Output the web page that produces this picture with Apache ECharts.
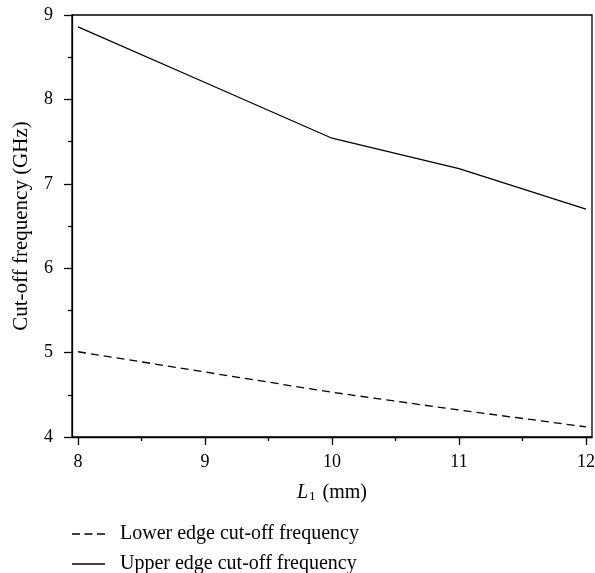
<!DOCTYPE html>
<html><head><meta charset="utf-8">
<script src="https://cdn.jsdelivr.net/npm/echarts@6/dist/echarts.min.js"></script>
<style>html,body{margin:0;padding:0;background:#fff}#c{width:595px;height:573px}</style>
</head><body><div id="c"></div>
<script>
var xValues = [8, 9, 10, 11, 12];
var lowerEdge = [5.01, 4.77, 4.53, 4.32, 4.12];
var upperEdge = [8.86, 8.20, 7.54, 7.18, 6.70];
var xTicks = [8, 9, 10, 11, 12];
var xMinorTicks = [8.5, 9.5, 10.5, 11.5];
var seriesNames = ['Lower edge cut-off frequency', 'Upper edge cut-off frequency'];

var F = 'Liberation Serif, Times New Roman, serif';
function pairs(ys){ return xValues.map(function(x,i){ return [x, ys[i]]; }); }
var xmin = 8 - 6/127, xmax = 12 + 6/127;
var dashIcon = 'path://M0,0h8v1.4h-8z M12.5,0h8v1.4h-8z M25,0h8v1.4h-8z';
var solidIcon = 'path://M0,0h33v1.4h-33z';
function legendAt(top, name, icon){
  return {
    orient: 'vertical', left: 72, top: top, padding: 0, itemWidth: 33, itemHeight: 1.4,
    textStyle: {fontFamily: F, fontSize: 20, color: '#000', padding: [0, 0, 0, 10]},
    data: [{name: name, icon: icon}]
  };
}
var chart = echarts.init(document.getElementById('c'));
chart.setOption({
  animation: false,
  textStyle: {fontFamily: F, color: '#000'},
  grid: {left: 72, right: 3, top: 15, bottom: 136, show: true, borderColor: '#000', borderWidth: 1.3, containLabel: false, outerBoundsMode: 'none'},
  legend: [legendAt(524, seriesNames[0], dashIcon), legendAt(554, seriesNames[1], solidIcon)],
  xAxis: [{
    type: 'value', min: xmin, max: xmax, position: 'bottom',
    name: '{i|L}{s|1} (mm)', nameLocation: 'middle', nameGap: 45,
    nameTextStyle: {fontFamily: F, fontSize: 20, color: '#000', rich: {
      i: {fontFamily: F, fontStyle: 'italic', fontSize: 20},
      s: {fontFamily: F, fontSize: 13, verticalAlign: 'bottom', padding: [8, 2, 0, 1]}
    }},
    axisLine: {show: true, lineStyle: {color: '#000', width: 1.3}},
    axisTick: {show: true, inside: false, length: 8, lineStyle: {color: '#000', width: 1.3}, customValues: xTicks},
    axisLabel: {show: true, fontFamily: F, fontSize: 18, color: '#000', margin: 16, customValues: xTicks},
    splitLine: {show: false}
  }, {
    type: 'value', min: xmin, max: xmax, position: 'bottom',
    axisLine: {show: false},
    axisTick: {show: true, inside: false, length: 4, lineStyle: {color: '#000', width: 1.3}, customValues: xMinorTicks},
    axisLabel: {show: false, customValues: xMinorTicks},
    splitLine: {show: false}
  }],
  yAxis: {
    type: 'value', min: 4, max: 9, interval: 1,
    name: 'Cut-off frequency (GHz)', nameLocation: 'middle', nameGap: 40,
    nameTextStyle: {fontFamily: F, fontSize: 21, color: '#000'},
    axisLine: {show: true, lineStyle: {color: '#000', width: 1.3}},
    axisTick: {show: true, inside: false, length: 8, lineStyle: {color: '#000', width: 1.3}},
    minorTick: {show: true, splitNumber: 2, length: 4, lineStyle: {color: '#000', width: 1.3}},
    axisLabel: {fontFamily: F, fontSize: 18, color: '#000', margin: 19},
    splitLine: {show: false}
  },
  series: [{
    name: seriesNames[0], type: 'line', data: pairs(lowerEdge), symbol: 'none',
    lineStyle: {color: '#000', width: 1.3, type: [8, 5]}, itemStyle: {color: '#000'}
  }, {
    name: seriesNames[1], type: 'line', data: pairs(upperEdge), symbol: 'none',
    lineStyle: {color: '#000', width: 1.3, type: 'solid'}, itemStyle: {color: '#000'}
  }]
});
</script></body></html>
